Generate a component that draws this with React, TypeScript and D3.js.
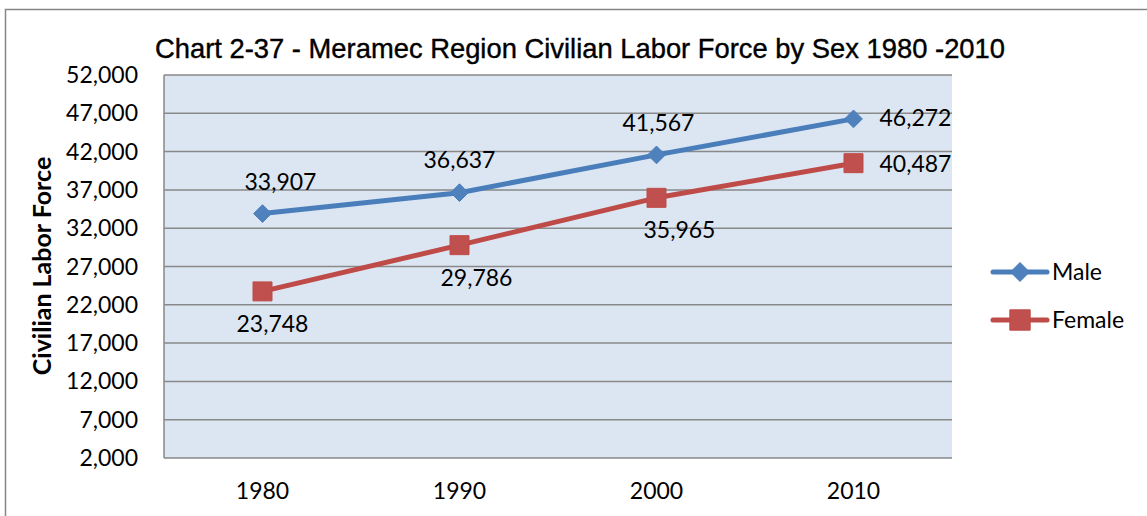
import React, { useEffect, useRef } from "react";
import * as d3 from "d3";

const years = ["1980", "1990", "2000", "2010"];
const male = [33907, 36637, 41567, 46272];
const female = [23748, 29786, 35965, 40487];
const yTicks = [2000, 7000, 12000, 17000, 22000, 27000, 32000, 37000, 42000, 47000, 52000];

const title = "Chart 2-37 - Meramec Region Civilian Labor Force by Sex 1980 -2010";
const yTitle = "Civilian Labor Force";

// hand-placed label offsets (dx, dy from the point), like the original chart
const maleLabelOffsets = [[18, -24], [0, -25], [2, -24], [26, 7]];
const femaleLabelOffsets = [[10, 41], [17, 41], [23, 40], [26, 9]];

const W = 1147;
const H = 516;
const font = "Lato, 'Open Sans', sans-serif";

const App = () => {
  const svgRef = useRef<SVGSVGElement>(null);

  useEffect(() => {
    const svg = d3.select(svgRef.current);
    svg.selectAll("*").remove();

    const plot = { left: 164, top: 75, right: 952, bottom: 458 };

    const x = d3.scalePoint().domain(years).range([plot.left, plot.right]).padding(0.5);
    const y = d3.scaleLinear().domain([2000, 52000]).range([plot.bottom, plot.top]);

    // chart frame
    svg.append("rect").attr("width", W).attr("height", H).attr("fill", "#fff");
    svg
      .append("rect")
      .attr("x", 5.5)
      .attr("y", 9.5)
      .attr("width", W + 10)
      .attr("height", H + 10)
      .attr("fill", "none")
      .attr("stroke", "#868686")
      .attr("stroke-width", 1.5);

    // the original uses a narrow face; squeeze Liberation Sans to the same width
    svg
      .append("text")
      .attr("x", 155)
      .attr("y", 58)
      .attr("font-family", "'Liberation Sans', Arial, sans-serif")
      .attr("font-size", 28)
      .attr("fill", "#000")
      .attr("stroke", "#000")
      .attr("stroke-width", 0.4)
      .attr("textLength", 850)
      .attr("lengthAdjust", "spacingAndGlyphs")
      .text(title);

    svg
      .append("rect")
      .attr("x", plot.left)
      .attr("y", plot.top)
      .attr("width", plot.right - plot.left)
      .attr("height", plot.bottom - plot.top)
      .attr("fill", "#dce6f2");

    svg
      .append("g")
      .selectAll("line")
      .data(yTicks)
      .join("line")
      .attr("x1", plot.left)
      .attr("x2", plot.right)
      .attr("y1", (d) => y(d))
      .attr("y2", (d) => y(d))
      .attr("stroke", "#898989")
      .attr("stroke-width", 1.5);

    svg
      .append("line")
      .attr("x1", plot.left)
      .attr("x2", plot.left)
      .attr("y1", plot.top)
      .attr("y2", plot.bottom)
      .attr("stroke", "#898989")
      .attr("stroke-width", 1.5);

    svg
      .append("g")
      .selectAll("text")
      .data(yTicks)
      .join("text")
      .attr("x", plot.left - 26)
      .attr("y", (d) => y(d) + 8)
      .attr("text-anchor", "end")
      .attr("font-family", font)
      .attr("font-size", 23)
      .text((d) => d3.format(",")(d));

    svg
      .append("g")
      .selectAll("text")
      .data(years)
      .join("text")
      .attr("x", (d) => x(d)!)
      .attr("y", 499)
      .attr("text-anchor", "middle")
      .attr("font-family", font)
      .attr("font-size", 23)
      .text((d) => d);

    svg
      .append("text")
      .attr("transform", "translate(51, 266) rotate(-90)")
      .attr("text-anchor", "middle")
      .attr("font-family", font)
      .attr("font-weight", "bold")
      .attr("font-size", 25)
      .text(yTitle);

    const series = [
      { name: "Male", values: male, line: "#4a7ebb", fill: "#4f81bd", shape: d3.symbolDiamond2, size: 200, offsets: maleLabelOffsets },
      { name: "Female", values: female, line: "#be4b48", fill: "#c0504d", shape: d3.symbolSquare, size: 360, offsets: femaleLabelOffsets },
    ];

    const line = d3
      .line<number>()
      .x((_, i) => x(years[i])!)
      .y((d) => y(d));

    series.forEach((s) => {
      const g = svg.append("g");
      g.append("path")
        .datum(s.values)
        .attr("fill", "none")
        .attr("stroke", s.line)
        .attr("stroke-width", 5)
        .attr("stroke-linejoin", "round")
        .attr("d", line);

      g.selectAll("path.m")
        .data(s.values)
        .join("path")
        .attr("class", "m")
        .attr("transform", (d, i) => `translate(${x(years[i])}, ${y(d)})`)
        .attr("d", d3.symbol(s.shape, s.size)())
        .attr("fill", s.fill)
        .attr("stroke", s.line)
        .attr("stroke-width", 1);

      g.selectAll("text")
        .data(s.values)
        .join("text")
        .attr("x", (_, i) => x(years[i])! + s.offsets[i][0])
        .attr("y", (d, i) => y(d) + s.offsets[i][1])
        .attr("text-anchor", (_, i) => (i === years.length - 1 ? "start" : "middle"))
        .attr("font-family", font)
        .attr("font-size", 23)
        .text((d) => d3.format(",")(d));
    });

    // legend
    const legend = svg.append("g");
    series.forEach((s, i) => {
      const ly = 272 + i * 48;
      legend
        .append("line")
        .attr("x1", 993)
        .attr("x2", 1047)
        .attr("y1", ly)
        .attr("y2", ly)
        .attr("stroke", s.line)
        .attr("stroke-width", 5)
        .attr("stroke-linecap", "round");
      legend
        .append("path")
        .attr("transform", `translate(1020, ${ly})`)
        .attr("d", d3.symbol(s.shape, s.size * 1.15)())
        .attr("fill", s.fill)
        .attr("stroke", s.line);
      legend
        .append("text")
        .attr("x", 1052)
        .attr("y", ly + 8)
        .attr("font-family", font)
        .attr("font-size", 23)
        .text(s.name);
    });
  }, []);

  return (
    <svg
      ref={svgRef}
      width={W}
      height={H}
      style={{ position: "absolute", left: 0, top: 0 }}
    />
  );
};

export default App;
